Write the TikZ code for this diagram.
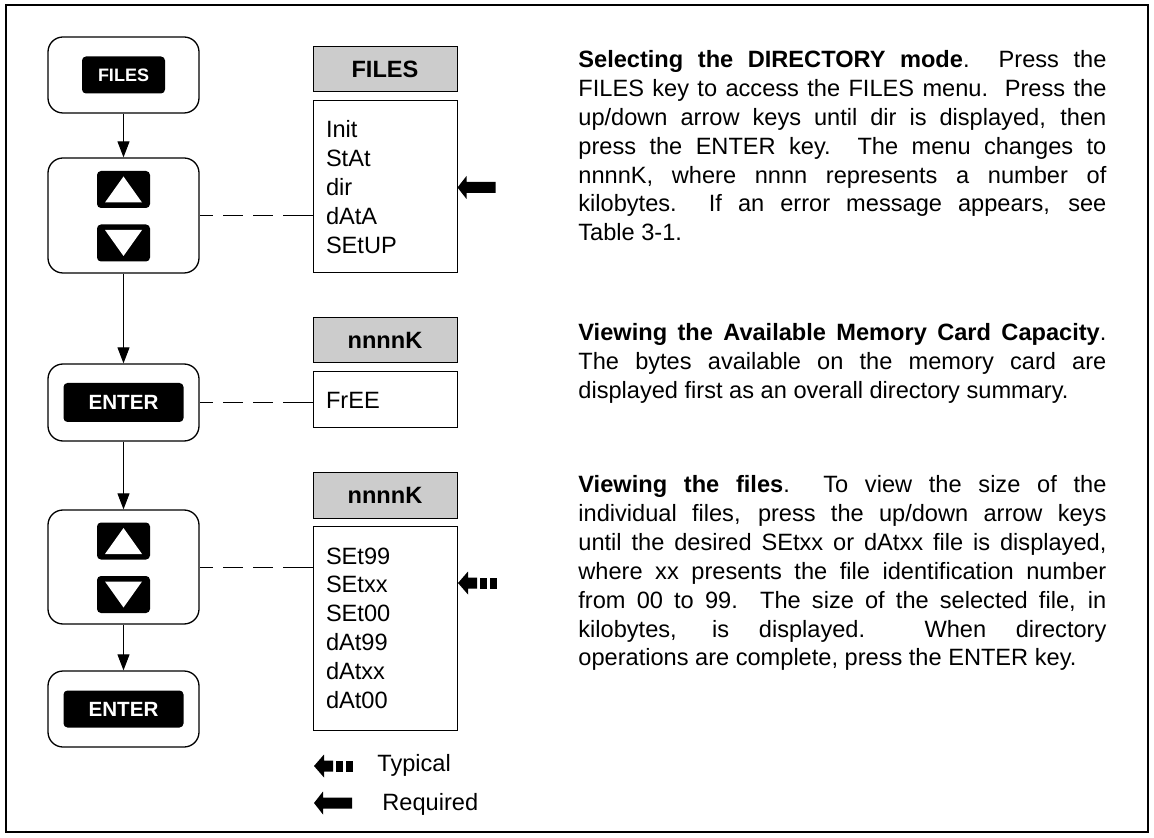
\documentclass[tikz,border=0pt]{standalone}
\usepackage{fontspec}
\setmainfont{Liberation Sans}
\usepackage{tikz}
\usetikzlibrary{arrows.meta,calc,positioning}
\definecolor{headGray}{HTML}{CCCCCC}

\begin{document}
\begin{tikzpicture}[x=0.5pt,y=-0.5pt,>={Triangle[length=8pt,width=6pt]},
    node distance=4pt,
    keyframe/.style={draw,line width=0.65pt,rounded corners=7.5pt,
      minimum width=75.5pt,inner sep=0pt},
    keycap/.style={fill=black,rounded corners=2pt,text=white,inner sep=0pt,
      minimum height=18.5pt},
    arrowcap/.style={keycap,minimum width=26.5pt},
    menuhead/.style={draw,line width=0.5pt,fill=headGray,minimum width=72pt,
      minimum height=22.5pt,inner sep=0pt,
      font=\fontsize{11.8pt}{14.4pt}\selectfont\bfseries},
    menulist/.style={draw,line width=0.5pt,text width=59pt,inner xsep=6.5pt,
      inner ysep=0pt,align=left,font=\fontsize{11.8pt}{14.4pt}\selectfont},
    notes/.style={text width=264pt,align=justify,inner sep=0pt,anchor=base west,
      font=\fontsize{11.8pt}{14.4pt}\selectfont},
    legend/.style={inner sep=0pt,anchor=base west,
      font=\fontsize{11.8pt}{14.4pt}\selectfont},
    flow/.style={->,line width=0.5pt},
    link/.style={line width=0.5pt,
      dash pattern=on 15pt off 5pt on 10pt off 5pt on 10pt off 5pt on 10pt off 5pt},
    reqarrow/.pic={\fill (0,0) -- (9,-11.5) -- (9,-5.5) -- (38,-5.5) -- (38,5.5)
      -- (9,5.5) -- (9,11.5) -- cycle;},
    typarrow/.pic={\fill (0,0) -- (10,-11.5) -- (10,-5.5) -- (19,-5.5) -- (19,5.5)
      -- (10,5.5) -- (10,11.5) -- cycle;
      \fill (22,-5.5) rectangle (29,5.5);
      \fill (32,-5.5) rectangle (39,5.5);}]
  \useasboundingbox (0,0) rectangle (1154,838);
  \draw[line width=0.6pt] (6,5) rectangle (1148,832);

  % keys
  \node[keyframe,minimum height=38pt] (files) at (123.5,75) {};
  \node[keycap,minimum width=41.5pt,font=\fontsize{9pt}{9pt}\selectfont\bfseries]
    (filescap) at (files.center) {FILES};
  \node[keyframe,minimum height=57.5pt] (sel1) at (123.5,215.5) {};
  \node[arrowcap] (up1) at (123.5,189.5) {};
  \node[arrowcap] (down1) at (123.5,243) {};
  \node[keyframe,minimum height=38.5pt] (enter1) at (123.5,402.5) {};
  \node[keycap,minimum width=60pt,minimum height=19.5pt,
    font=\fontsize{10.3pt}{10.3pt}\selectfont\bfseries] (enter1cap) at (enter1.center) {ENTER};
  \node[keyframe,minimum height=57pt] (sel2) at (123.5,567) {};
  \node[arrowcap] (up2) at (123.5,541) {};
  \node[arrowcap] (down2) at (123.5,594.5) {};
  \node[keyframe,minimum height=38pt] (enter2) at (123.5,709) {};
  \node[keycap,minimum width=60pt,
    font=\fontsize{10.3pt}{10.3pt}\selectfont\bfseries] (enter2cap) at (enter2.center) {ENTER};
  \foreach \k in {up1,up2}
    \fill[white,shift={(\k.center)}] (-18.5,13) -- (18.5,13) -- (0,-13) -- cycle;
  \foreach \k in {down1,down2}
    \fill[white,shift={(\k.center)}] (-18.5,-13) -- (18.5,-13) -- (0,13) -- cycle;

  % display menus
  \node[menuhead] (head1) at (385,69.5) {FILES};
  \node[menulist,minimum height=86pt,below=of head1] (menu1)
    {Init\\StAt\\dir\\dAtA\\SEtUP};
  \node[menuhead] (head2) at (385,340.5) {nnnnK};
  \node[menulist,minimum height=28pt,below=of head2] (menu2) {FrEE};
  \node[menuhead] (head3) at (385,495.5) {nnnnK};
  \node[menulist,minimum height=102pt,below=3.5pt of head3] (menu3)
    {SEt99\\SEtxx\\SEt00\\dAt99\\dAtxx\\dAt00};

  \draw[flow] (files) -- (sel1);
  \draw[flow] (sel1) -- (enter1);
  \draw[flow] (enter1) -- (sel2);
  \draw[flow] (sel2) -- (enter2);
  \draw[link] (menu1.west |- sel1.east) -- (sel1.east);
  \draw[link] (menu2.west |- enter1.east) -- (enter1.east);
  \draw[link] (menu3.west |- sel2.east) -- (sel2.east);

  \pic at (457.5,187.5) {reqarrow};
  \pic at (458,583) {typarrow};

  % legend
  \pic at (314,766) {typarrow};
  \node[legend] (typical) at (377,771) {Typical};
  \pic at (314,803) {reqarrow};
  \node[legend] (required) at (382,810) {Required};

  % notes
  \node[notes] (dirnote) at (578,68) {\textbf{Selecting the DIRECTORY mode}.\ \ Press the\linebreak
    FILES key to access the FILES menu.\ \ Press the\linebreak
    up/down arrow keys until dir is displayed, then\linebreak
    press the ENTER key.\ \ The menu changes to\linebreak
    nnnnK, where nnnn represents a number of\linebreak
    kilobytes.\ \ If an error message appears, see\linebreak
    Table 3-1.};
  \node[notes] (freenote) at (578,341) {\textbf{Viewing the Available Memory Card Capacity}.\linebreak
    The bytes available on the memory card are\linebreak
    displayed first as an overall directory summary.};
  \node[notes] (filenote) at (578,493) {\textbf{Viewing the files}.\ \ To view the size of the\linebreak
    individual files, press the up/down arrow keys\linebreak
    until the desired SEtxx or dAtxx file is displayed,\linebreak
    where xx presents the file identification number\linebreak
    from 00 to 99.\ \ The size of the selected file, in\linebreak
    kilobytes, is displayed.\ \ When directory\linebreak
    operations are complete, press the ENTER key.};
\end{tikzpicture}
\end{document}
